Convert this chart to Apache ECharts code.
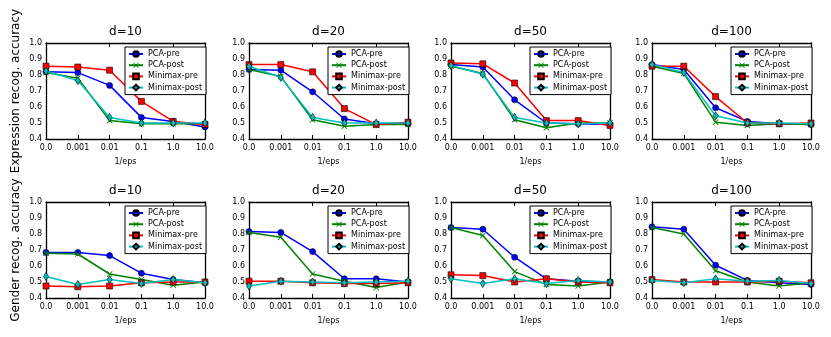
<!DOCTYPE html>
<html>
<head>
<meta charset="utf-8">
<script src="https://cdn.jsdelivr.net/npm/echarts@6.0.0/dist/echarts.min.js"></script>
<style>
  html, body { margin: 0; padding: 0; background: #fff; }
  #chart { width: 831px; height: 337px; }
</style>
</head>
<body>
<div id="chart"></div>
<script>
// x categories (1/eps)
var categories = ["0.0", "0.001", "0.01", "0.1", "1.0", "10.0"];
var dims = ["d=10", "d=20", "d=50", "d=100"];
var seriesNames = ["PCA-pre", "PCA-post", "Minimax-pre", "Minimax-post"];

// expression accuracy, one row per d
var exprPcaPre = [
  [0.82, 0.815, 0.735, 0.535, 0.51, 0.475],
  [0.835, 0.83, 0.695, 0.525, 0.495, 0.495],
  [0.865, 0.85, 0.645, 0.50, 0.495, 0.49],
  [0.865, 0.835, 0.595, 0.51, 0.495, 0.49]
];
var exprPcaPost = [
  [0.815, 0.78, 0.515, 0.495, 0.495, 0.495],
  [0.835, 0.79, 0.52, 0.48, 0.49, 0.49],
  [0.855, 0.81, 0.52, 0.47, 0.50, 0.50],
  [0.855, 0.81, 0.505, 0.485, 0.495, 0.49]
];
var exprMinimaxPre = [
  [0.855, 0.85, 0.83, 0.635, 0.51, 0.49],
  [0.865, 0.865, 0.82, 0.59, 0.49, 0.505],
  [0.875, 0.87, 0.75, 0.515, 0.515, 0.485],
  [0.855, 0.855, 0.665, 0.50, 0.495, 0.50]
];
var exprMinimaxPost = [
  [0.825, 0.765, 0.535, 0.50, 0.50, 0.50],
  [0.855, 0.785, 0.535, 0.50, 0.50, 0.50],
  [0.86, 0.805, 0.535, 0.50, 0.495, 0.50],
  [0.865, 0.815, 0.545, 0.50, 0.50, 0.495]
];

// gender accuracy, one row per d
var genPcaPre = [
  [0.685, 0.685, 0.665, 0.555, 0.515, 0.495],
  [0.815, 0.81, 0.69, 0.52, 0.52, 0.50],
  [0.84, 0.83, 0.655, 0.52, 0.505, 0.50],
  [0.845, 0.83, 0.605, 0.51, 0.495, 0.485]
];
var genPcaPost = [
  [0.68, 0.675, 0.55, 0.515, 0.48, 0.50],
  [0.81, 0.78, 0.55, 0.505, 0.465, 0.50],
  [0.84, 0.79, 0.565, 0.485, 0.475, 0.50],
  [0.84, 0.80, 0.57, 0.50, 0.475, 0.495]
];
var genMinimaxPre = [
  [0.475, 0.47, 0.475, 0.495, 0.50, 0.50],
  [0.505, 0.505, 0.495, 0.49, 0.49, 0.495],
  [0.545, 0.54, 0.50, 0.52, 0.50, 0.495],
  [0.515, 0.50, 0.50, 0.50, 0.505, 0.495]
];
var genMinimaxPost = [
  [0.535, 0.485, 0.515, 0.49, 0.515, 0.495],
  [0.475, 0.505, 0.50, 0.495, 0.50, 0.505],
  [0.52, 0.49, 0.52, 0.49, 0.51, 0.50],
  [0.51, 0.495, 0.52, 0.505, 0.51, 0.49]
];

var rows = [
  [exprPcaPre, exprPcaPost, exprMinimaxPre, exprMinimaxPost],
  [genPcaPre, genPcaPost, genMinimaxPre, genMinimaxPost]
];
var rowLabels = ["Expression recog. accuracy", "Gender recog. accuracy"];

var font = "DejaVu Sans";
var lefts = [46, 249, 451, 652];
var tops = [43, 202];
var plotW = 159, plotH = 96;

var xPath = "path://M0,1L1,0L5,4L9,0L10,1L6,5L10,9L9,10L5,6L1,10L0,9L4,5Z";
var styles = [
  { color: "#0000ff", symbol: "circle", size: 6, border: 0.6 },
  { color: "#008000", symbol: xPath, size: 6, border: 0 },
  { color: "#ff0000", symbol: "rect", size: 6, border: 0.6 },
  { color: "#00bfbf", symbol: "diamond", size: [5, 8], border: 0.6 }
];

function oneDecimal(v) {
  return (Math.round(Number(v) * 10) / 10).toFixed(1);
}

var grid = [], xAxis = [], yAxis = [], series = [], legend = [], graphic = [];

for (var r = 0; r < 2; r++) {
  // row label on the left (rotated)
  graphic.push({
    type: "text", x: 16, y: tops[r] + plotH / 2, rotation: Math.PI / 2,
    style: { text: rowLabels[r], font: "12px '" + font + "'", fill: "#000",
             textAlign: "center", textVerticalAlign: "middle" }
  });

  for (var c = 0; c < 4; c++) {
    var g = r * 4 + c;
    grid.push({ left: lefts[c], top: tops[r], width: plotW, height: plotH });

    var tickStyle = { inside: true, length: 4, lineStyle: { color: "#000", width: 1 } };
    var lineStyle = { show: true, onZero: false, lineStyle: { color: "#000", width: 1.3 } };

    xAxis.push({
      gridIndex: g, type: "category", data: categories, boundaryGap: false,
      axisLine: lineStyle, axisTick: tickStyle,
      axisLabel: { fontSize: 8, color: "#000", fontFamily: font, margin: 5 },
      splitLine: { show: false },
      name: "1/eps", nameLocation: "middle", nameGap: 19,
      nameTextStyle: { fontSize: 8, color: "#000", fontFamily: font }
    });
    xAxis.push({
      gridIndex: g, type: "category", data: categories, boundaryGap: false, position: "top",
      axisLine: lineStyle, axisTick: tickStyle, axisLabel: { show: false },
      splitLine: { show: false }
    });

    yAxis.push({
      gridIndex: g, type: "value", min: 0.4, max: 1.0, interval: 0.1,
      axisLine: lineStyle, axisTick: tickStyle, splitLine: { show: false },
      axisLabel: {
        fontSize: 8, color: "#000", fontFamily: font, margin: 4,
        formatter: oneDecimal
      }
    });
    yAxis.push({
      gridIndex: g, type: "value", min: 0.4, max: 1.0, interval: 0.1, position: "right",
      axisLine: lineStyle, axisTick: tickStyle, splitLine: { show: false },
      axisLabel: { show: false }
    });

    for (var s = 0; s < 4; s++) {
      var st = styles[s];
      series.push({
        name: seriesNames[s], type: "line",
        xAxisIndex: g * 2, yAxisIndex: g * 2,
        data: rows[r][s][c],
        symbol: st.symbol, symbolSize: st.size, showAllSymbol: true,
        lineStyle: { color: st.color, width: 1.5 },
        itemStyle: { color: st.color, borderColor: "#000", borderWidth: st.border },
        z: 2 + s, animation: false
      });
    }

    legend.push({
      data: seriesNames, orient: "vertical",
      left: lefts[c] + plotW - 80, top: tops[r] + 4,
      itemWidth: 14, itemHeight: 7, itemGap: 3.2,
      padding: [3, 4, 3, 3],
      backgroundColor: "#fff", borderColor: "#000", borderWidth: 1,
      borderRadius: 0,
      textStyle: { fontSize: 8, color: "#000", fontFamily: font, padding: [0, 0, 0, 0] },
      selectedMode: false, z: 10
    });

    graphic.push({
      type: "text", x: lefts[c] + plotW / 2, y: tops[r] - 11,
      style: { text: dims[c], font: "12px '" + font + "'", fill: "#000",
               textAlign: "center", textVerticalAlign: "middle" }
    });
  }
}

var chart = echarts.init(document.getElementById("chart"), null, { renderer: "canvas" });
chart.setOption({
  backgroundColor: "#fff",
  animation: false,
  grid: grid, xAxis: xAxis, yAxis: yAxis,
  legend: legend, series: series, graphic: graphic
});
</script>
</body>
</html>
